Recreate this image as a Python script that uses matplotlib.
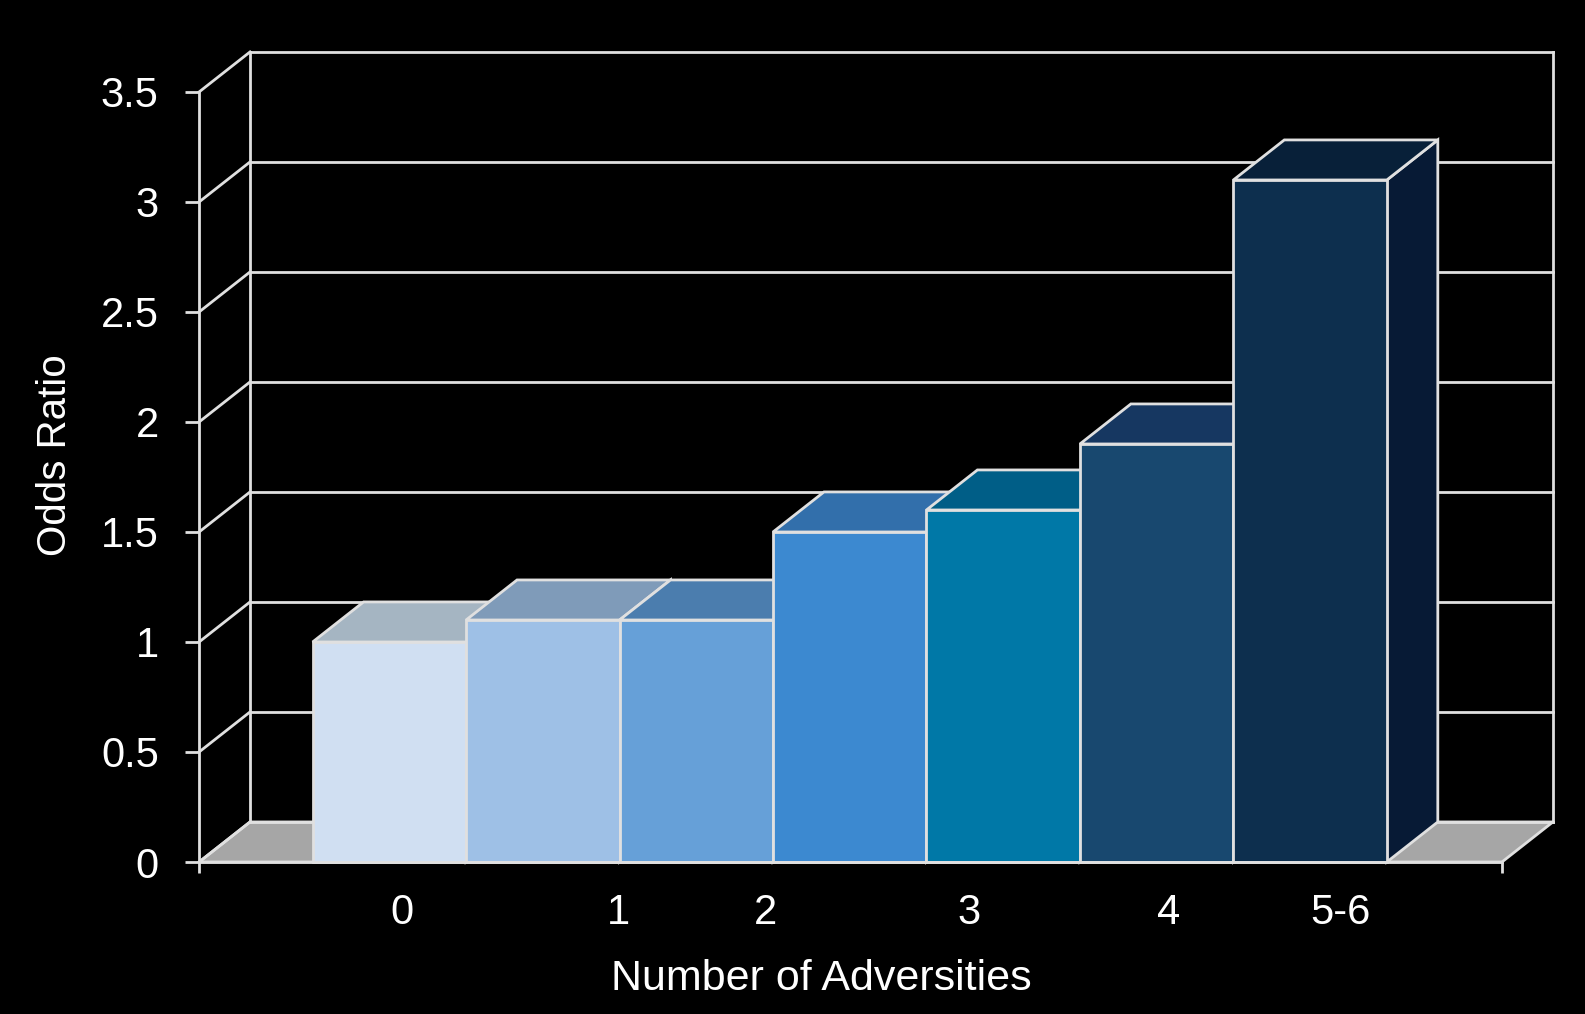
import matplotlib
matplotlib.use('Agg')
import matplotlib.pyplot as plt
from matplotlib.patches import Polygon

# data
bar_values = [1.0, 1.1, 1.1, 1.5, 1.6, 1.9, 3.1]
front_colors = ['#d0dff2', '#9ec0e6', '#66a0d8', '#3c89d0', '#0078a7', '#18486f', '#0d2f4e']
top_colors = ['#a5b5c2', '#7f9bb9', '#4b7dae', '#326fab', '#005e87', '#163761', '#082039']
side_color = '#071a35'
x_labels = ['0', '1', '2', '3', '4', '5-6']
x_label_pos = [0.58, 1.99, 2.95, 4.28, 5.58, 6.70]
y_ticks = [0, 0.5, 1, 1.5, 2, 2.5, 3, 3.5]

plt.rcParams['font.family'] = ['Liberation Sans', 'DejaVu Sans']

fig = plt.figure(figsize=(15.85, 10.14), dpi=100, facecolor='black')
ax = fig.add_axes([0.1256, 0.1499, 0.822, 0.7594])
ax.set_facecolor('none')

x0, x1 = -0.74, 7.75
ymax = 3.5
dx, dy = 0.332, 0.182
line_col = '#e0e0e0'
lw = 2.0

ax.set_xlim(x0, x1)
ax.set_ylim(0, ymax)

# floor
floor = Polygon([(x0, 0), (x1, 0), (x1 + dx, dy), (x0 + dx, dy)], closed=True,
                facecolor='#a6a6a6', edgecolor=line_col, lw=lw, clip_on=False, zorder=1)
ax.add_patch(floor)

# back wall gridlines and side wall diagonals
for v in y_ticks:
    ax.plot([x0 + dx, x1 + dx], [v + dy, v + dy], color=line_col, lw=lw, clip_on=False, zorder=1)
    ax.plot([x0, x0 + dx], [v, v + dy], color=line_col, lw=lw, clip_on=False, zorder=1)
ax.plot([x0 + dx, x0 + dx], [dy, ymax + dy], color=line_col, lw=lw, clip_on=False, zorder=1)
ax.plot([x1 + dx, x1 + dx], [dy, ymax + dy], color=line_col, lw=lw, clip_on=False, zorder=1)

# bars: front face, top face, right side face
for i, v in enumerate(bar_values):
    z = 2 + i
    side = Polygon([(i + 1, 0), (i + 1 + dx, dy), (i + 1 + dx, v + dy), (i + 1, v)], closed=True,
                   facecolor=side_color, edgecolor=line_col, lw=lw, clip_on=False, zorder=z)
    ax.add_patch(side)
    top = Polygon([(i, v), (i + 1, v), (i + 1 + dx, v + dy), (i + dx, v + dy)], closed=True,
                  facecolor=top_colors[i], edgecolor=line_col, lw=lw, clip_on=False, zorder=z)
    ax.add_patch(top)
    ax.bar(i, v, width=1, align='edge', color=front_colors[i], edgecolor=line_col,
           linewidth=lw, zorder=z + 0.5, clip_on=False)

# axes styling
for s in ['top', 'right']:
    ax.spines[s].set_visible(False)
for s in ['left', 'bottom']:
    ax.spines[s].set_color(line_col)
    ax.spines[s].set_linewidth(lw)
    ax.spines[s].set_zorder(20)

ax.set_yticks(y_ticks)
ax.set_yticklabels(['0', '0.5', '1', '1.5', '2', '2.5', '3', '3.5'])
ax.tick_params(axis='y', colors=line_col, labelcolor='white', labelsize=30,
               length=10, width=lw, pad=19)

ax.set_xticks(x_label_pos)
ax.set_xticklabels(x_labels)
ax.set_xticks([x0, x1], minor=True)
ax.tick_params(axis='x', which='major', length=0, labelcolor='white', labelsize=30, pad=22)
ax.tick_params(axis='x', which='minor', length=8, width=lw, colors=line_col)

ax.set_ylabel('Odds Ratio', color='white', fontsize=29)
ax.yaxis.set_label_coords((55 - 199) / 1303, (862 - 455) / 770)
ax.yaxis.label.set_va('center')
ax.set_xlabel('Number of Adversities', color='white', fontsize=31)
ax.xaxis.set_label_coords((821 - 199) / 1303, (862 - 979) / 770)
ax.xaxis.label.set_va('center')

fig.savefig('out.png', dpi=100, facecolor='black')
